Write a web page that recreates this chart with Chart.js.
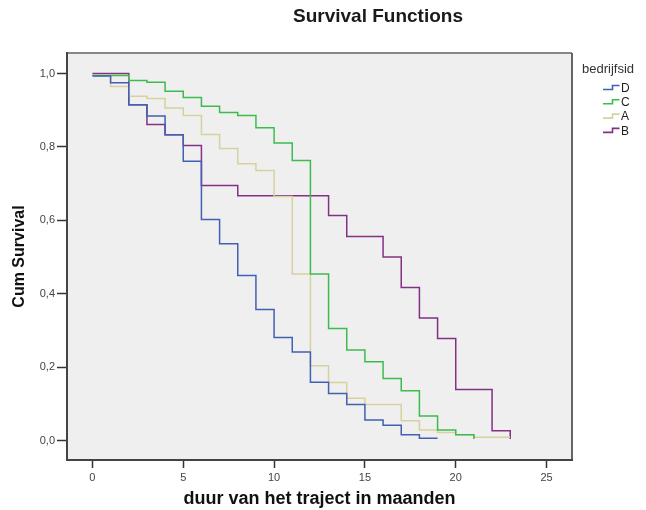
<!DOCTYPE html>
<html>
<head>
<meta charset="utf-8">
<script src="https://cdn.jsdelivr.net/npm/chart.js@4"></script>
<style>
  html, body { margin: 0; padding: 0; background: #fff; }
  #wrap { width: 646px; height: 510px; }
</style>
</head>
<body>
<div id="wrap"><canvas id="chart" width="646" height="510"></canvas></div>
<script>
const FONT = "'Liberation Sans', Arial, sans-serif";

// Kaplan-Meier steps per bedrijfsid (time in months, cumulative survival)
const groups = ["D", "C", "A", "B"];
const colors = ["#4260b4", "#3cbc4e", "#d6d19e", "#833087"];

const timesD = [0, 1, 2, 3, 4, 5, 6, 7, 8, 9, 10, 11, 12, 13, 14, 15, 16, 17, 18, 19];
const survD = [0.993, 0.975, 0.915, 0.884, 0.833, 0.761, 0.602, 0.536, 0.450, 0.357,
  0.281, 0.241, 0.159, 0.128, 0.098, 0.056, 0.042, 0.016, 0.006, 0.006];

const timesC = [0, 2, 3, 4, 5, 6, 7, 8, 9, 10, 11, 12, 13, 14, 15, 16, 17, 18, 19, 20, 21];
const survC = [0.995, 0.981, 0.976, 0.952, 0.935, 0.911, 0.894, 0.886, 0.852, 0.811,
  0.763, 0.454, 0.305, 0.247, 0.215, 0.169, 0.136, 0.067, 0.029, 0.016, 0.004];

const timesA = [0, 1, 2, 3, 4, 5, 6, 7, 8, 9, 10, 11, 12, 13, 14, 15, 17, 18, 19, 20, 21, 23];
const survA = [0.997, 0.965, 0.938, 0.932, 0.906, 0.886, 0.834, 0.796, 0.754, 0.736,
  0.665, 0.454, 0.204, 0.158, 0.115, 0.098, 0.054, 0.029, 0.022, 0.016, 0.009, 0.009];

const timesB = [0, 2, 3, 4, 5, 6, 8, 13, 14, 16, 17, 18, 19, 20, 22, 23];
const survB = [1.0, 0.915, 0.861, 0.833, 0.804, 0.695, 0.667, 0.613, 0.556, 0.500,
  0.417, 0.334, 0.278, 0.139, 0.027, 0.004];

const xTicks = [0, 5, 10, 15, 20, 25];
const yTicks = [0, 0.2, 0.4, 0.6, 0.8, 1.0];

const series = [
  [timesD, survD],
  [timesC, survC],
  [timesA, survA],
  [timesB, survB],
];

const datasets = series.map(([t, s], i) => ({
  label: groups[i],
  data: t.map((x, j) => ({ x: x, y: s[j] })),
  borderColor: colors[i],
  backgroundColor: colors[i],
  borderWidth: 1.5,
  stepped: true,
  pointRadius: 0,
  fill: false,
}));

// plot background, frame, title and legend
const decor = {
  id: "decor",
  beforeDraw(chart) {
    const { ctx, chartArea: a } = chart;
    ctx.save();
    ctx.fillStyle = "#efefef";
    ctx.fillRect(a.left, a.top, a.right - a.left, a.bottom - a.top);
    ctx.restore();
  },
  afterDraw(chart) {
    const { ctx, chartArea: a } = chart;
    ctx.save();
    ctx.lineWidth = 2;
    ctx.strokeStyle = "#888";
    ctx.beginPath(); ctx.moveTo(a.left, a.top); ctx.lineTo(a.right, a.top); ctx.stroke();
    ctx.strokeStyle = "#666";
    ctx.beginPath(); ctx.moveTo(a.right, a.top); ctx.lineTo(a.right, a.bottom); ctx.stroke();
    ctx.strokeStyle = "#444";
    ctx.beginPath(); ctx.moveTo(a.left, a.top - 1); ctx.lineTo(a.left, a.bottom);
    ctx.lineTo(a.right + 1, a.bottom); ctx.stroke();

    // title
    ctx.fillStyle = "#1a1a1a";
    ctx.font = "bold 19px " + FONT;
    ctx.textAlign = "center";
    ctx.textBaseline = "alphabetic";
    ctx.fillText("Survival Functions", 378, 22);

    // legend
    ctx.textAlign = "left";
    ctx.fillStyle = "#333";
    ctx.font = "13px " + FONT;
    ctx.fillText("bedrijfsid", 582, 73);
    chart.data.datasets.forEach((ds, i) => {
      const y = 88 + i * 14.3;
      ctx.strokeStyle = ds.borderColor;
      ctx.lineWidth = 1.6;
      ctx.beginPath();
      ctx.moveTo(603, y + 1.5);
      ctx.lineTo(612.5, y + 1.5);
      ctx.lineTo(612.5, y - 2.5);
      ctx.lineTo(619.5, y - 2.5);
      ctx.stroke();
      ctx.fillStyle = "#222";
      ctx.font = "12px " + FONT;
      ctx.textBaseline = "middle";
      ctx.fillText(ds.label, 621, y + 0.5);
    });
    ctx.restore();
  },
};

const tickGrid = {
  display: true,
  drawOnChartArea: false,
  drawTicks: true,
  tickColor: "#333",
  tickWidth: 1.5,
};

new Chart(document.getElementById("chart"), {
  type: "line",
  data: { datasets: datasets },
  plugins: [decor],
  options: {
    responsive: false,
    animation: false,
    layout: { padding: { top: 53, right: 74, bottom: 0, left: 0 } },
    plugins: {
      legend: { display: false },
      title: { display: false },
      tooltip: { enabled: false },
    },
    scales: {
      x: {
        type: "linear",
        min: -1.4,
        max: 26.4,
        afterBuildTicks: (s) => { s.ticks = xTicks.map((v) => ({ value: v })); },
        afterFit: (s) => { s.height = 50; },
        grid: { ...tickGrid, tickLength: 8 },
        border: { display: false },
        ticks: {
          color: "#444",
          padding: 3,
          maxRotation: 0,
          font: { family: FONT, size: 11 },
          callback: (v) => String(v),
        },
        title: {
          display: true,
          text: "duur van het traject in maanden",
          color: "#111",
          font: { family: FONT, size: 18, weight: "bold", lineHeight: 1 },
          padding: { top: 0, bottom: 2 },
        },
      },
      y: {
        type: "linear",
        min: -0.053,
        max: 1.056,
        afterBuildTicks: (s) => { s.ticks = yTicks.map((v) => ({ value: v })); },
        afterFit: (s) => { s.width = 67; },
        grid: { ...tickGrid, tickLength: 10 },
        border: { display: false },
        ticks: {
          color: "#444",
          padding: 2,
          font: { family: FONT, size: 11 },
          callback: (v) => v.toFixed(1).replace(".", ","),
        },
        title: {
          display: true,
          text: "Cum Survival",
          color: "#111",
          font: { family: FONT, size: 16, weight: "bold", lineHeight: 1.2 },
          padding: { top: 10, bottom: 0 },
        },
      },
    },
  },
});
</script>
</body>
</html>
